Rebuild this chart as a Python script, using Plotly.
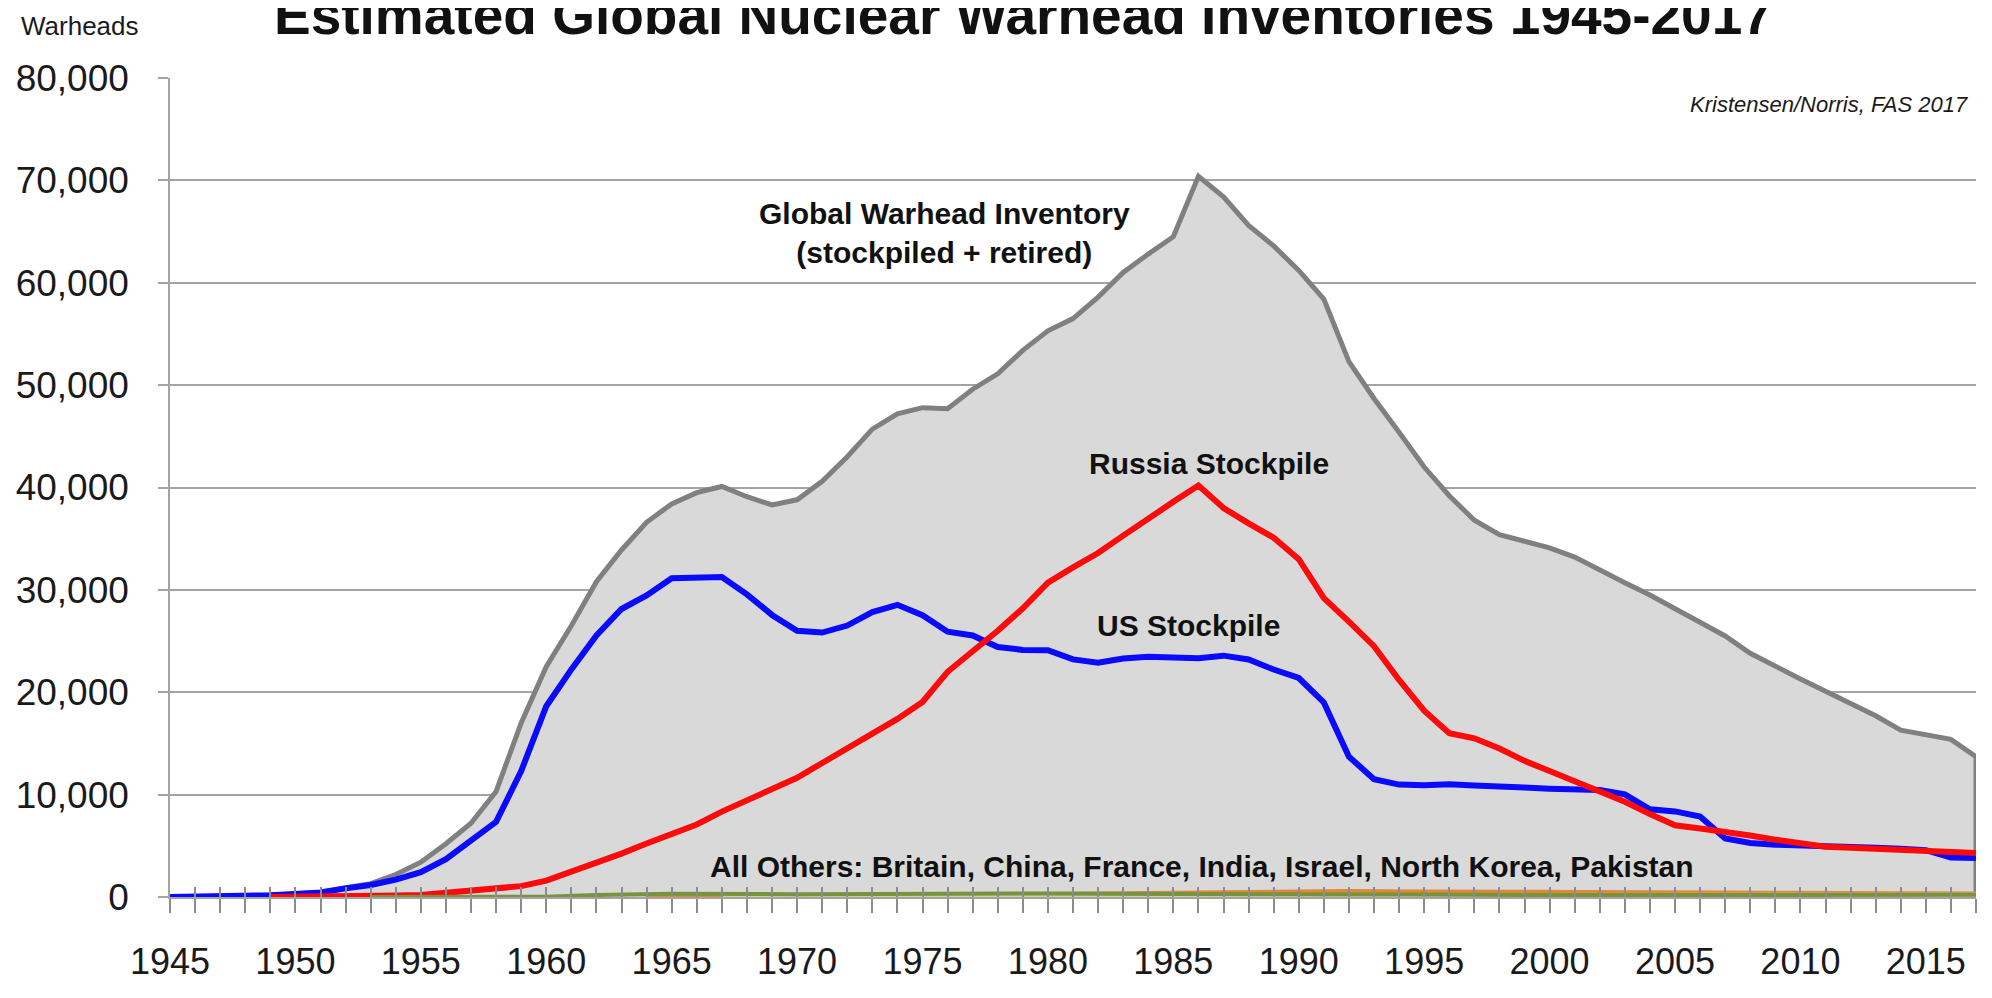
import plotly.graph_objects as go

# ---------------- data ----------------
YEARS = list(range(1945, 2018))

GLOBAL = [2, 9, 13, 50, 170, 300, 460, 900, 1300, 2200,
          3400, 5200, 7200, 10300, 17000, 22500, 26500, 30800, 33900, 36600,
          38400, 39500, 40100, 39100, 38300, 38800, 40600, 43000, 45700, 47200,
          47800, 47700, 49600, 51100, 53400, 55300, 56500, 58600, 61000, 62800,
          64500, 70400, 68400, 65600, 63600, 61200, 58400, 52300, 48700, 45400,
          42000, 39200, 36800, 35400, 34800, 34100, 33200, 31900, 30700, 29500,
          28200, 26900, 25500, 23800, 22500, 21300, 20100, 18900, 17700, 16300,
          15800, 15400, 13700]

US = [2, 9, 13, 50, 170, 299, 438, 841, 1169, 1703,
      2422, 3692, 5543, 7345, 12298, 18638, 22229, 25540, 28133, 29463,
      31139, 31175, 31255, 29561, 27552, 26008, 25830, 26516, 27835, 28537,
      27519, 25914, 25542, 24418, 24138, 24104, 23208, 22886, 23305, 23459,
      23368, 23317, 23575, 23205, 22217, 21392, 19008, 13708, 11511, 10979,
      10904, 11011, 10903, 10732, 10685, 10577, 10526, 10457, 10027, 8570,
      8360, 7853, 5709, 5273, 5113, 5066, 4897, 4881, 4804, 4717,
      4571, 3850, 3800]

RUSSIA = [None, None, None, None, 1, 5, 25, 50, 120, 150,
          200, 426, 660, 869, 1060, 1605, 2471, 3322, 4238, 5221,
          6129, 7089, 8339, 9399, 10538, 11643, 13092, 14478, 16000, 17400,
          19055, 22000, 24000, 26000, 28200, 30700, 32200, 33600, 35300, 37000,
          38600, 40200, 38000, 36500, 35100, 33000, 29200, 26900, 24500, 21200,
          18200, 16000, 15500, 14500, 13300, 12300, 11300, 10300, 9300, 8100,
          7000, 6700, 6400, 6000, 5600, 5200, 4900, 4800, 4700, 4600,
          4500, 4400, 4300]

# "All Others" (sparse estimates)
CHINA_YEARS = [1964, 1965, 1970, 1975, 1980, 1985, 1990, 1995, 2000, 2005, 2010, 2017]
CHINA = [1, 5, 75, 185, 280, 243, 232, 234, 232, 235, 240, 270]
INDIA_YEARS = [1974, 1990, 1998, 2000, 2005, 2010, 2017]
INDIA = [1, 5, 10, 35, 50, 70, 130]
PAKISTAN_YEARS = [1998, 2000, 2005, 2010, 2017]
PAKISTAN = [5, 25, 50, 90, 140]
NKOREA_YEARS = [2006, 2010, 2017]
NKOREA = [1, 5, 15]
FRANCE_YEARS = [1964, 1965, 1970, 1975, 1980, 1985, 1990, 1992, 1995, 2000, 2005, 2010, 2017]
FRANCE = [4, 32, 36, 188, 250, 360, 505, 540, 500, 470, 350, 300, 300]
ISRAEL_YEARS = [1967, 1970, 1975, 1980, 1985, 1990, 1995, 2000, 2005, 2010, 2017]
ISRAEL = [2, 13, 20, 31, 42, 53, 63, 72, 80, 80, 80]
BRITAIN_YEARS = [1953, 1955, 1958, 1960, 1962, 1965, 1970, 1975, 1980, 1985, 1990, 1995, 2000, 2005, 2010, 2017]
BRITAIN = [1, 10, 20, 30, 205, 310, 280, 350, 350, 300, 300, 234, 185, 200, 225, 215]

Y_TICKS = [0, 10000, 20000, 30000, 40000, 50000, 60000, 70000, 80000]
X_TICKS = list(range(1945, 2016, 5))

# ---------------- layout geometry ----------------
OFF = 8                      # default body margin of the html page
FIG_W, FIG_H = 1992 - 2 * OFF, 998 - 2 * OFF
L, R, T, B = 162.7, 1976.0, 77.5, 913.3     # plot area in page pixels


def px(x):
    return (x - L) / (R - L)


def py(y):
    return (B - y) / (B - T)


FONT = "Liberation Sans, Arial, Helvetica, sans-serif"
GRID = "#a3a3a3"

fig = go.Figure()

fig.add_trace(go.Scatter(
    x=YEARS + [YEARS[-1]], y=GLOBAL + [0], mode="lines",
    line=dict(color="#808080", width=5), fill="tozeroy", fillcolor="#d9d9d9",
    name="Global", showlegend=False))
fig.add_trace(go.Scatter(x=YEARS, y=US, mode="lines",
                         line=dict(color="#0a0aff", width=6), showlegend=False))
fig.add_trace(go.Scatter(x=YEARS, y=RUSSIA, mode="lines",
                         line=dict(color="#ff0a0a", width=6), showlegend=False))

others = [
    (CHINA_YEARS, CHINA, "#d2b350", 4),
    (INDIA_YEARS, INDIA, "#b6cc80", 4),
    (PAKISTAN_YEARS, PAKISTAN, "#d6c07e", 4),
    (NKOREA_YEARS, NKOREA, "#bfd39a", 4),
    (FRANCE_YEARS, FRANCE, "#e3883a", 5),
    (ISRAEL_YEARS, ISRAEL, "#c5d89c", 7),
    (BRITAIN_YEARS, BRITAIN, "#77933c", 4),
]
for xs, ys, col, w in others:
    fig.add_trace(go.Scatter(x=xs, y=ys, mode="lines",
                             line=dict(color=col, width=w), showlegend=False))

# dummy trace for the overlay axis carrying the upward tick marks
fig.add_trace(go.Scatter(x=[YEARS[0]], y=[0], xaxis="x2", mode="markers",
                         marker=dict(opacity=0), showlegend=False, hoverinfo="skip"))

fig.update_layout(
    width=FIG_W, height=FIG_H,
    margin=dict(l=L - OFF, r=FIG_W - (R - OFF), t=T - OFF, b=FIG_H - (B - OFF), pad=0),
    paper_bgcolor="white", plot_bgcolor="white",
    font=dict(family=FONT, color="#1a1a1a"),
    xaxis=dict(range=[1945, 2017], tickmode="array", tickvals=X_TICKS,
               ticktext=[str(v) for v in X_TICKS],
               ticks="outside", ticklen=14, tickwidth=1.5, tickcolor="#8c8c8c",
               minor=dict(dtick=1, tick0=1945, ticks="outside", ticklen=14,
                          tickwidth=1.5, tickcolor="#8c8c8c", showgrid=False),
               showgrid=False, zeroline=False, showline=True, linecolor=GRID,
               linewidth=1.5, tickfont=dict(size=36, color="#1a1a1a"),
               ticklabelstandoff=18),
    xaxis2=dict(range=[1945, 2017], overlaying="x", anchor="y", side="bottom",
                tick0=1945, dtick=1, ticks="inside", ticklen=10, tickwidth=1.5,
                tickcolor="#8c8c8c", showticklabels=False, showgrid=False,
                zeroline=False, showline=False),
    yaxis=dict(range=[0, 80000], tickmode="array", tickvals=Y_TICKS,
               tickformat=",d", ticks="outside", ticklen=10, tickwidth=1.5,
               tickcolor=GRID, showgrid=True, gridcolor=GRID, gridwidth=1.5,
               zeroline=False, showline=True, linecolor=GRID, linewidth=1.5,
               tickfont=dict(size=37, color="#1a1a1a"), ticklabelstandoff=22),
)

bold = dict(family=FONT, size=30, color="#111111", weight="bold")
ann = [
    dict(text="Estimated Global Nuclear Warhead Inventories 1945-2017",
         x=px(1020), y=py(13), font=dict(family=FONT, size=55, color="#111111", weight="bold"),
         xanchor="center", yanchor="middle"),
    dict(text="Warheads", x=px(72), y=py(24), font=dict(family=FONT, size=26, color="#1a1a1a"),
         xanchor="center", yanchor="middle"),
    dict(text="<i>Kristensen/Norris, FAS 2017</i>", x=px(1970), y=py(105),
         font=dict(family=FONT, size=22, color="#1a1a1a"), xanchor="right", yanchor="middle"),
    dict(text="Global Warhead Inventory<br>(stockpiled + retired)", x=px(940), y=py(236),
         font=bold, xanchor="center", yanchor="middle"),
    dict(text="Russia Stockpile", x=px(1206), y=py(471), font=bold,
         xanchor="center", yanchor="middle"),
    dict(text="US Stockpile", x=px(1185), y=py(636), font=bold,
         xanchor="center", yanchor="middle"),
    dict(text="All Others: Britain, China, France, India, Israel, North Korea, Pakistan",
         x=px(703), y=py(882), font=bold, xanchor="left", yanchor="middle"),
]
for a in ann:
    fig.add_annotation(xref="paper", yref="paper", showarrow=False, **a)

fig.write_html("out.html")
